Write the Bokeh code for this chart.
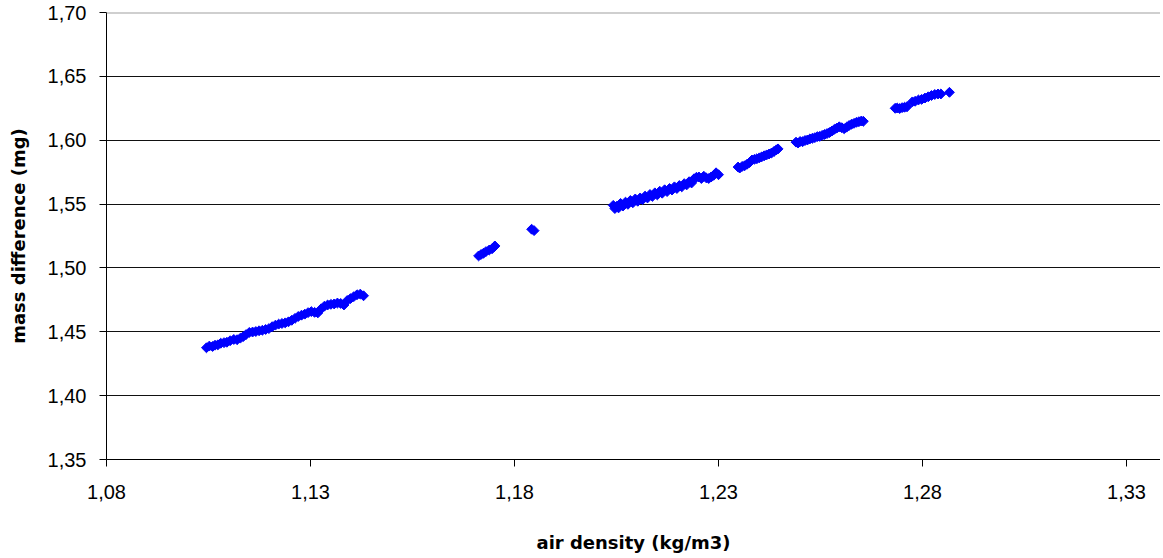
from bokeh.plotting import figure
from bokeh.models import Range1d, FixedTicker, CustomJSTickFormatter, Span
from bokeh.embed import file_html
from bokeh.resources import INLINE

# ---- data ----
c1_x = [1.1045, 1.1052, 1.1060, 1.1066, 1.1073, 1.1080, 1.1088, 1.1095, 1.1103, 1.1112,
        1.1120, 1.1128, 1.1135, 1.1142, 1.1150, 1.1158, 1.1166, 1.1174, 1.1182, 1.1190,
        1.1198, 1.1206, 1.1214, 1.1222, 1.1230, 1.1238, 1.1246, 1.1254, 1.1262, 1.1270,
        1.1278, 1.1286, 1.1294, 1.1302, 1.1310, 1.1318, 1.1326, 1.1334, 1.1342, 1.1350,
        1.1358, 1.1366, 1.1374, 1.1382, 1.1390, 1.1398, 1.1406, 1.1414, 1.1422, 1.1430]
c1_y = [1.4375, 1.4388, 1.4385, 1.4395, 1.4398, 1.4410, 1.4415, 1.4418, 1.4430, 1.4440,
        1.4438, 1.4450, 1.4462, 1.4478, 1.4495, 1.4498, 1.4502, 1.4508, 1.4512, 1.4518,
        1.4525, 1.4540, 1.4552, 1.4560, 1.4565, 1.4570, 1.4578, 1.4590, 1.4605, 1.4620,
        1.4630, 1.4638, 1.4650, 1.4658, 1.4652, 1.4648, 1.4680, 1.4700, 1.4710, 1.4715,
        1.4718, 1.4725, 1.4722, 1.4710, 1.4745, 1.4760, 1.4775, 1.4790, 1.4795, 1.4782]

c2_x = [1.1712, 1.1718, 1.1724, 1.1730, 1.1738, 1.1745, 1.1750, 1.1752, 1.1842, 1.1848]
c2_y = [1.5094, 1.5105, 1.5115, 1.5128, 1.5140, 1.5150, 1.5165, 1.5172, 1.5303, 1.5292]

c3_x = [1.2042, 1.2046, 1.2050, 1.2055, 1.2060, 1.2066, 1.2072, 1.2078, 1.2084, 1.2090,
        1.2096, 1.2102, 1.2108, 1.2114, 1.2120, 1.2126, 1.2132, 1.2138, 1.2144, 1.2150,
        1.2156, 1.2162, 1.2168, 1.2174, 1.2180, 1.2186, 1.2192, 1.2198, 1.2204, 1.2210,
        1.2216, 1.2222, 1.2228, 1.2234, 1.2240, 1.2246, 1.2252, 1.2258, 1.2264, 1.2270,
        1.2276, 1.2282, 1.2288, 1.2294, 1.2300]
c3_y = [1.5490, 1.5465, 1.5482, 1.5470, 1.5505, 1.5485, 1.5515, 1.5498, 1.5528, 1.5510,
        1.5540, 1.5522, 1.5548, 1.5535, 1.5562, 1.5548, 1.5575, 1.5560, 1.5588, 1.5572,
        1.5600, 1.5585, 1.5612, 1.5598, 1.5622, 1.5610, 1.5635, 1.5622, 1.5645, 1.5635,
        1.5660, 1.5650, 1.5675, 1.5665, 1.5698, 1.5710, 1.5712, 1.5700, 1.5718, 1.5705,
        1.5700, 1.5712, 1.5725, 1.5745, 1.5730]

c4_x = [1.2348, 1.2352, 1.2358, 1.2364, 1.2370, 1.2376, 1.2382, 1.2388, 1.2394, 1.2400,
        1.2406, 1.2412, 1.2418, 1.2424, 1.2430, 1.2436, 1.2442, 1.2446]
c4_y = [1.5790, 1.5782, 1.5795, 1.5800, 1.5812, 1.5825, 1.5845, 1.5850, 1.5855, 1.5862,
        1.5870, 1.5878, 1.5885, 1.5892, 1.5900, 1.5912, 1.5925, 1.5932]

c5_x = [1.2490, 1.2495, 1.2500, 1.2506, 1.2512, 1.2518, 1.2524, 1.2530, 1.2536, 1.2542,
        1.2548, 1.2554, 1.2560, 1.2566, 1.2572, 1.2578, 1.2584, 1.2590, 1.2596, 1.2602,
        1.2608, 1.2614, 1.2620, 1.2626, 1.2632, 1.2638, 1.2644, 1.2650, 1.2655]
c5_y = [1.5985, 1.5978, 1.5990, 1.5988, 1.5998, 1.6002, 1.6010, 1.6015, 1.6020, 1.6028,
        1.6030, 1.6038, 1.6045, 1.6052, 1.6060, 1.6072, 1.6085, 1.6095, 1.6105, 1.6098,
        1.6090, 1.6102, 1.6115, 1.6125, 1.6132, 1.6140, 1.6145, 1.6150, 1.6148]

c6_x = [1.2733, 1.2738, 1.2744, 1.2750, 1.2756, 1.2762, 1.2775, 1.2782, 1.2790, 1.2798,
        1.2806, 1.2814, 1.2822, 1.2830, 1.2838, 1.2845, 1.2866]
c6_y = [1.6250, 1.6252, 1.6248, 1.6255, 1.6258, 1.6262, 1.6300, 1.6305, 1.6315, 1.6320,
        1.6330, 1.6340, 1.6350, 1.6358, 1.6362, 1.6362, 1.6375]

x_vals = c1_x + c2_x + c3_x + c4_x + c5_x + c6_x
y_vals = c1_y + c2_y + c3_y + c4_y + c5_y + c6_y

x_ticks = [1.08, 1.13, 1.18, 1.23, 1.28, 1.33]
y_ticks = [1.35, 1.40, 1.45, 1.50, 1.55, 1.60, 1.65, 1.70]

x_title = "air density (kg/m3)"
y_title = "mass difference (mg)"

# ---- figure ----
p = figure(width=1160, height=555, output_backend="svg", toolbar_location=None,
           x_range=Range1d(1.08, 1.33833), y_range=Range1d(1.35, 1.70),
           min_border_left=106, min_border_right=0, min_border_top=12, min_border_bottom=95)
p.outline_line_color = None
p.background_fill_color = "white"
p.border_fill_color = "white"

p.scatter(x_vals, y_vals, marker="square", angle=0.785398, size=7,
          fill_color="#0000FF", line_color="#0000FF", line_width=1)

fmt = CustomJSTickFormatter(code="return tick.toFixed(2).replace('.', ',');")

for ax in (p.xaxis[0], p.yaxis[0]):
    ax.formatter = fmt
    ax.major_tick_in = 0
    ax.major_tick_out = 7
    ax.minor_tick_out = 0
    ax.minor_tick_in = 0
    ax.axis_line_color = "black"
    ax.major_tick_line_color = "black"
    ax.major_label_text_font = "Liberation Sans"
    ax.major_label_text_font_size = "20px"
    ax.major_label_text_color = "black"
    ax.axis_label_text_font = "DejaVu Sans"
    ax.axis_label_text_font_style = "bold"
    ax.axis_label_text_font_size = "18px"
    ax.axis_label_text_color = "black"

p.xaxis.ticker = FixedTicker(ticks=x_ticks)
p.yaxis.ticker = FixedTicker(ticks=y_ticks)
p.xaxis.axis_label = x_title
p.yaxis.axis_label = y_title
p.xaxis.major_label_standoff = 18
p.xaxis.axis_label_standoff = 30
p.yaxis.major_label_standoff = 13
p.yaxis.axis_label_standoff = 16

p.xgrid.grid_line_color = None
p.ygrid.ticker = FixedTicker(ticks=y_ticks[1:-1])
p.ygrid.grid_line_color = "#111111"
p.ygrid.grid_line_width = 1

p.add_layout(Span(location=1.70, dimension="width", line_color="#a0a0a0", line_width=2))

open("out.html", "w").write(file_html(p, INLINE))
